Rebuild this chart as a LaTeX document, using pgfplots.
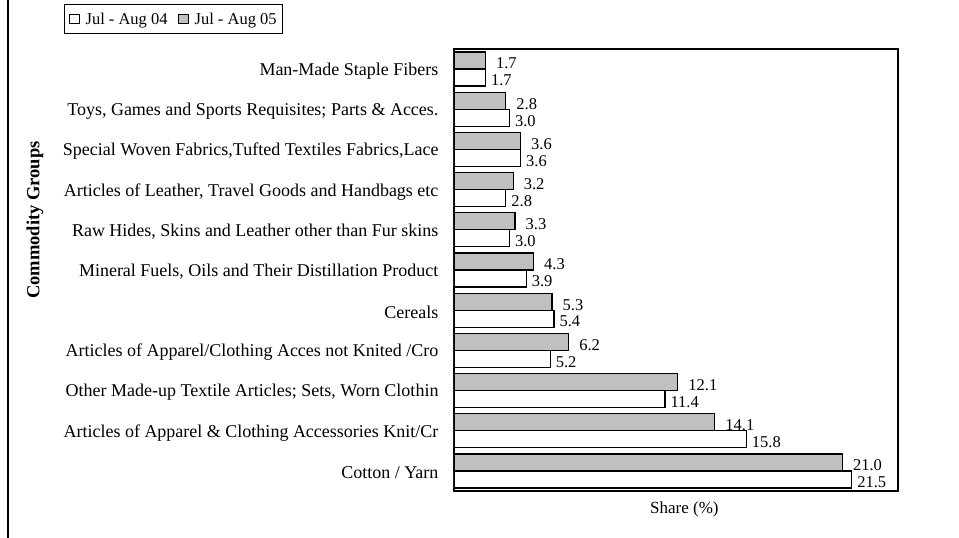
\documentclass[border=0pt]{standalone}
\usepackage{fontspec}
\setmainfont{Liberation Serif}
\usepackage{pgfplots}
\pgfplotsset{compat=1.18}
\definecolor{bargrey}{RGB}{192,192,192}
\pgfplotsset{sqlegend/.style={legend image code/.code={\path[draw=none,fill=none] (0pt,0pt) -- (15pt,0pt);\draw[##1,line width=1.1pt] (1pt,-4pt) rectangle (11pt,4.5pt);}}}
\begin{document}
\begin{tikzpicture}
\useasboundingbox (0,0) rectangle (959pt,538pt);
\draw[line width=2pt] (8pt,0pt) -- (8pt,538pt);
\begin{axis}[
  at={(454pt,47pt)}, anchor=south west,
  scale only axis, width=444pt, height=442pt,
  xbar, sqlegend, xmin=0, xmax=24, ymin=-0.5, ymax=10.5,
  bar width=17pt,
  xtick=\empty,
  ytick={0,...,10},
  yticklabels={Cotton / Yarn,
    Articles of Apparel \& Clothing Accessories Knit/Cr,
    {Other Made-up Textile Articles; Sets, Worn Clothin},
    Articles of Apparel/Clothing Acces not Knited /Cro,
    Cereals,
    {Mineral Fuels, Oils and Their Distillation Product},
    {Raw Hides, Skins and Leather other than Fur skins},
    {Articles of Leather, Travel Goods and Handbags etc},
    {Special Woven Fabrics,Tufted Textiles Fabrics,Lace},
    {Toys, Games and Sports Requisites; Parts \& Acces.},
    Man-Made Staple Fibers},
  yticklabel style={font=\fontsize{18}{21}\selectfont, xshift=-12pt, yshift=-2pt},
  major tick length=0pt,
  axis line style={line width=1.2pt},
  xlabel={Share (\%)},
  xlabel style={font=\fontsize{17}{20}\selectfont, at={(axis description cs:0.519,-0.0407)}, anchor=center},
  ylabel={\textbf{Commodity Groups}},
  ylabel style={font=\fontsize{18.5}{21}\selectfont\bfseries, at={(axis description cs:-0.9437,0.613)}, anchor=center, rotate=0},
  nodes near coords,
  /pgf/number format/.cd, fixed, fixed zerofill, precision=1, assume math mode=true,
  /pgfplots/.cd,
  every node near coord/.append style={font=\fontsize{16.5}{19}\selectfont, anchor=west, inner sep=0pt, yshift=-3pt},
  legend columns=2,
  legend style={draw=black, line width=1.2pt, font=\fontsize{16.5}{19}\selectfont,
    at={(-0.8784,1.1018)}, anchor=north west, inner xsep=4pt, inner ysep=6pt,
    /tikz/every even column/.append style={column sep=8pt}},
]
\addplot[fill=white, draw=black, line width=1.2pt, bar shift=-8.5pt,
  every node near coord/.append style={xshift=5pt}]
  coordinates {(21.5,0) (15.8,1) (11.4,2) (5.2,3) (5.4,4) (3.9,5) (3.0,6) (2.8,7) (3.6,8) (3.0,9) (1.7,10)};
\addplot[fill=bargrey, draw=black, line width=1.2pt, bar shift=8.5pt,
  every node near coord/.append style={xshift=10pt}]
  coordinates {(21.0,0) (14.1,1) (12.1,2) (6.2,3) (5.3,4) (4.3,5) (3.3,6) (3.2,7) (3.6,8) (2.8,9) (1.7,10)};
\legend{Jul - Aug 04, Jul - Aug 05}
\end{axis}
\end{tikzpicture}
\end{document}
